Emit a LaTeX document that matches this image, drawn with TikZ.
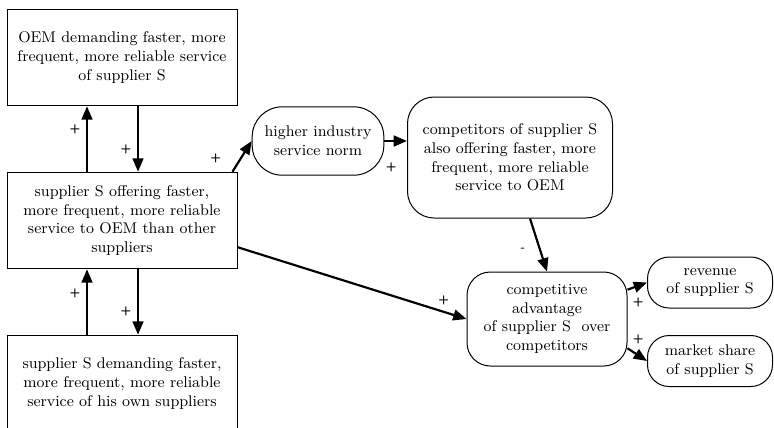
\documentclass[tikz,border=0pt]{standalone}
\usetikzlibrary{positioning, arrows.meta, calc}

\begin{document}
\begin{tikzpicture}[x=0.6pt, y=-0.6pt, node distance=97.8pt,
  every node/.style={font=\fontsize{9.3}{11.2}\selectfont, align=center},
  box/.style={draw, line width=0.6pt, minimum width=138pt, minimum height=58pt},
  rbox/.style={draw, line width=0.6pt, rounded corners=14pt},
  arr/.style={line width=1.3pt, -{Triangle[length=8pt, width=6.5pt]}},
  sign/.style={font=\fontsize{7.5}{8}\sffamily\bfseries}]
  \useasboundingbox (0,0) rectangle (774,427);

  % left column
  \node[box] (oem) at (122,57.5) {OEM demanding faster, more\\ frequent, more reliable service\\ of supplier S};
  \node[box, below of=oem] (offer) {supplier S offering faster,\\ more frequent, more reliable\\ service to OEM than other\\ suppliers};
  \node[box, below of=offer] (demand) {supplier S demanding faster,\\ more frequent, more reliable\\ service of his own suppliers};

  % right side
  \node[rbox, minimum width=79pt, minimum height=41pt, rounded corners=18pt] (higher) at (318,141) {higher industry\\ service norm};
  \node[rbox, minimum width=123pt, minimum height=72.6pt, rounded corners=16pt] (comp) at (510,157.5) {competitors of supplier S\\ also offering faster, more\\ frequent, more reliable\\ service to OEM};
  \node[rbox, minimum width=96pt, minimum height=56.4pt] (adv) at (547,319) {competitive\\ advantage\\ of supplier S\ \ over\\ competitors};
  \node[rbox, minimum width=75pt, minimum height=30.6pt, rounded corners=13pt] (rev) at (710,282.5) {revenue\\ of supplier S};
  \node[rbox, minimum width=75pt, minimum height=30.6pt, rounded corners=13pt] (mkt) at (710,361) {market share\\ of supplier S};

  \draw[arr] ([xshift=-21pt]offer.north) -- node[sign, left, pos=.65] {+} ([xshift=-21pt]oem.south);
  \draw[arr] ([xshift=9.6pt]oem.south) -- node[sign, left, pos=.66] {+} ([xshift=9.6pt]offer.north);
  \draw[arr] ([xshift=-21pt]demand.north) -- node[sign, left, pos=.63] {+} ([xshift=-21pt]offer.south);
  \draw[arr] ([xshift=9.6pt]offer.south) -- node[sign, left, pos=.65] {+} ([xshift=9.6pt]demand.north);

  \draw[arr] ([xshift=-3pt]offer.north east) -- node[sign, left=8pt, pos=.45] {+} (higher.west);
  \draw[arr] (higher.east) -- node[sign, below=9pt, pos=.3] {+} (higher.east -| comp.west);
  \draw[arr] ([xshift=12pt]comp.south) -- node[sign, left=5pt, pos=.6] {-} (adv.north);
  \draw[arr] ([yshift=-16pt]offer.east) -- node[sign, above, pos=.9] {+} (adv.west);
  \draw[arr] (adv.20) -- node[sign, below=3pt, pos=.55] {+} (rev.west);
  \draw[arr] (adv.-20) -- node[sign, above=3pt, pos=.55] {+} (mkt.west);
\end{tikzpicture}
\end{document}
